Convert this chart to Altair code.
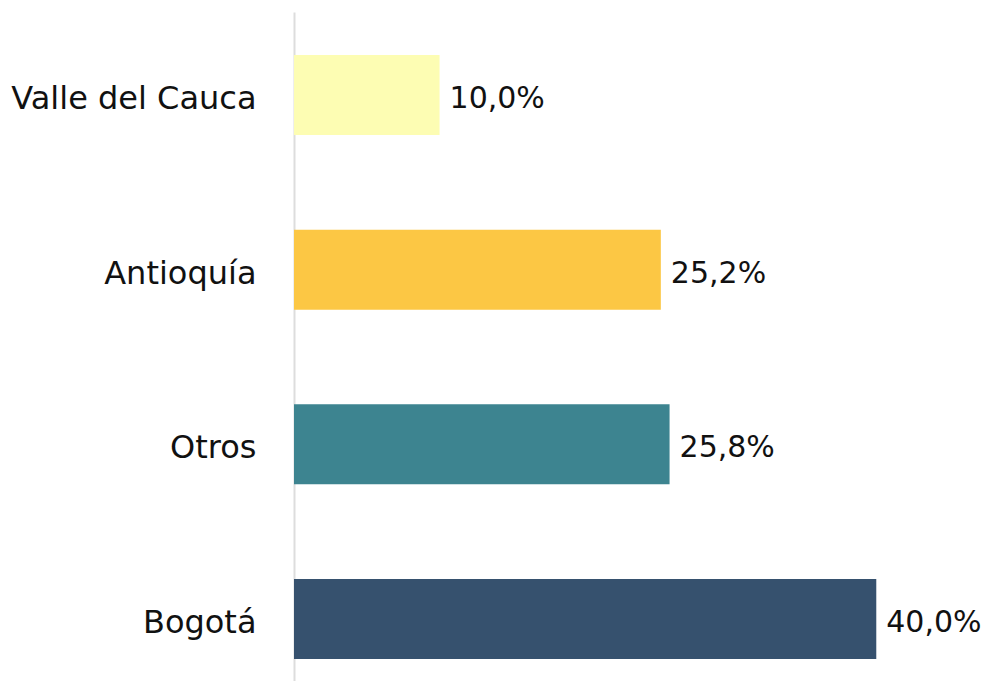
import altair as alt
import pandas as pd

categories = ["Valle del Cauca", "Antioquía", "Otros", "Bogotá"]
values = [10.0, 25.2, 25.8, 40.0]
labels = ["10,0%", "25,2%", "25,8%", "40,0%"]
colors = ["#FDFDB3", "#FCC744", "#3D8490", "#36516E"]

df = pd.DataFrame({"cat": categories, "val": values, "lab": labels})

y_enc = alt.Y("cat:N", sort=categories, title=None,
              scale=alt.Scale(range=[0, 690], paddingInner=0.542, paddingOuter=0.246),
              axis=alt.Axis(labelFontSize=32, labelFont="DejaVu Sans", labelColor="#111111",
                            labelPadding=38, labelLimit=400, labelOffset=4, ticks=False,
                            domainColor="#dddddd", domainWidth=2, grid=False))
x_enc = alt.X("val:Q", scale=alt.Scale(domain=[0, 47.4], nice=False), axis=None)

bars = alt.Chart(df).mark_bar().encode(
    y=y_enc, x=x_enc,
    color=alt.Color("cat:N", scale=alt.Scale(domain=categories, range=colors), legend=None),
)
text = alt.Chart(df).mark_text(align="left", baseline="middle", dx=10, dy=4, fontSize=30,
                               font="DejaVu Sans", color="#111111").encode(
    y=alt.Y("cat:N", sort=categories), x="val:Q", text="lab:N")

chart = (bars + text).properties(
    width=690, height=669,
    autosize=alt.AutoSizeParams(type="none"),
    padding={"left": 286, "top": 4, "right": 0, "bottom": 0},
).configure_view(stroke=None)

chart.save("out.html", embed_options={"renderer": "svg", "actions": False})
